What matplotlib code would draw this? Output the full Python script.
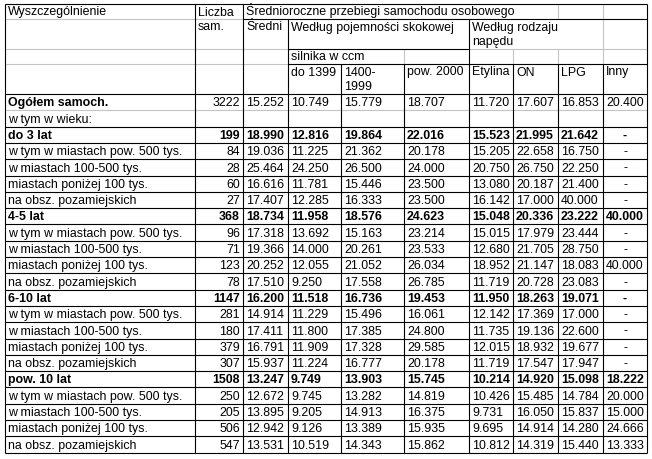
import matplotlib.pyplot as plt

# table data
labels = ["Ogółem samoch.", "w tym w wieku:",
          "do 3 lat", "w tym w miastach pow. 500 tys.", "w miastach 100-500 tys.",
          "miastach poniżej 100 tys.", "na obsz. pozamiejskich",
          "4-5 lat", "w tym w miastach pow. 500 tys.", "w miastach 100-500 tys.",
          "miastach poniżej 100 tys.", "na obsz. pozamiejskich",
          "6-10 lat", "w tym w miastach pow. 500 tys.", "w miastach 100-500 tys.",
          "miastach poniżej 100 tys.", "na obsz. pozamiejskich",
          "pow. 10 lat", "w tym w miastach pow. 500 tys.", "w miastach 100-500 tys.",
          "miastach poniżej 100 tys.", "na obsz. pozamiejskich"]
bold_rows = [2, 7, 12, 17]
liczba = [3222, None, 199, 84, 28, 60, 27, 368, 96, 71, 123, 78,
          1147, 281, 180, 379, 307, 1508, 250, 205, 506, 547]
sredni = [15.252, None, 18.990, 19.036, 25.464, 16.616, 17.407, 18.734, 17.318, 19.366, 20.252, 17.510,
          16.200, 14.914, 17.411, 16.791, 15.937, 13.247, 12.672, 13.895, 12.942, 13.531]
do1399 = [10.749, None, 12.816, 11.225, 24.250, 11.781, 12.285, 11.958, 13.692, 14.000, 12.055, 9.250,
          11.518, 11.229, 11.800, 11.909, 11.224, 9.749, 9.745, 9.205, 9.126, 10.519]
od1400 = [15.779, None, 19.864, 21.362, 26.500, 15.446, 16.333, 18.576, 15.163, 20.261, 21.052, 17.558,
          16.736, 15.496, 17.385, 17.328, 16.777, 13.903, 13.282, 14.913, 13.389, 14.343]
pow2000 = [18.707, None, 22.016, 20.178, 24.000, 23.500, 23.500, 24.623, 23.214, 23.533, 26.034, 26.785,
           19.453, 16.061, 24.800, 29.585, 20.178, 15.745, 14.819, 16.375, 15.935, 15.862]
etylina = [11.720, None, 15.523, 15.205, 20.750, 13.080, 16.142, 15.048, 15.015, 12.680, 18.952, 11.719,
           11.950, 12.142, 11.735, 12.015, 11.719, 10.214, 10.426, 9.731, 9.695, 10.812]
on = [17.607, None, 21.995, 22.658, 26.750, 20.187, 17.000, 20.336, 17.979, 21.705, 21.147, 20.728,
      18.263, 17.369, 19.136, 18.932, 17.547, 14.920, 15.485, 16.050, 14.914, 14.319]
lpg = [16.853, None, 21.642, 16.750, 22.250, 21.400, 40.000, 23.222, 23.444, 28.750, 18.083, 23.083,
       19.071, 17.000, 22.600, 19.677, 17.947, 15.098, 14.784, 15.837, 14.280, 15.440]
inny = [20.400, None, "-", "-", "-", "-", "-", 40.000, "-", "-", 40.000, "-",
        "-", "-", "-", "-", "-", 18.222, 20.000, 15.000, 24.666, 13.333]

# layout in pixels
xs = [5, 195, 243, 288, 341, 404, 469, 513, 558, 603, 647]
hy = [4, 19, 49, 64, 94]
row_h = (452.7 - 94) / len(labels)
ys = [94 + i * row_h for i in range(len(labels) + 1)]

fig = plt.figure(figsize=(6.52, 4.59), dpi=100)
ax = fig.add_axes([0, 0, 1, 1])
ax.set_xlim(0, 652)
ax.set_ylim(459, 0)
ax.axis("off")

gray = "#c4c4c4"
lw = 0.8
FS = 8.9
FONT = "Liberation Sans"

def hl(y, x0, x1, c):
    ax.plot([x0, x1], [y, y], color=c, lw=lw, solid_capstyle="butt")

def vl(x, y0, y1, c):
    ax.plot([x, x], [y0, y1], color=c, lw=lw, solid_capstyle="butt")

# gray lines first
hl(hy[1], xs[0], xs[2], gray)
hl(hy[2], xs[0], xs[3], gray)
hl(hy[2], xs[6], xs[10], gray)
hl(hy[3], xs[0], xs[3], gray)
hl(ys[1], xs[0], xs[10], gray)
vl(xs[8], hy[0], hy[1], gray)
vl(xs[9], hy[0], hy[3], gray)
vl(xs[5], hy[2], hy[3], gray)
vl(xs[7], hy[2], hy[3], gray)
vl(xs[8], hy[2], hy[3], gray)

# black lines
hl(hy[0], xs[0], xs[10], "black")
hl(hy[1], xs[2], xs[10], "black")
hl(hy[2], xs[3], xs[6], "black")
hl(hy[3], xs[3], xs[10], "black")
for i, y in enumerate(ys):
    if i != 1:
        hl(y, xs[0], xs[10], "black")
vl(xs[0], hy[0], ys[-1], "black")
vl(xs[1], hy[0], ys[-1], "black")
vl(xs[2], hy[0], ys[-1], "black")
vl(xs[3], hy[1], ys[-1], "black")
vl(xs[6], hy[1], ys[-1], "black")
for k in [4, 5, 7, 8, 9]:
    vl(xs[k], hy[3], ys[-1], "black")
vl(xs[10], hy[0], ys[-1], "black")

# header text
def ht(col, row, s):
    ax.text(xs[col] + 3, hy[row] + 11.5, s, fontsize=FS, family=FONT,
            va="baseline", ha="left", linespacing=1.15)

ht(0, 0, "Wyszczególnienie")
ht(1, 0, "Liczba")
ht(2, 0, "Średnioroczne przebiegi samochodu osobowego")
ht(1, 1, "sam.")
ht(2, 1, "Średni")
ht(3, 1, "Według pojemności skokowej")
ax.text(xs[6] + 3, hy[1] + 11.5, "Według rodzaju", fontsize=FS, family=FONT, va="baseline")
ax.text(xs[6] + 3, hy[1] + 25.5, "napędu", fontsize=FS, family=FONT, va="baseline")
ht(3, 2, "silnika w ccm")
ht(3, 3, "do 1399")
ax.text(xs[4] + 3, hy[3] + 11.5, "1400-", fontsize=FS, family=FONT, va="baseline")
ax.text(xs[4] + 3, hy[3] + 25.5, "1999", fontsize=FS, family=FONT, va="baseline")
ht(5, 3, "pow. 2000")
ht(6, 3, "Etylina")
ht(7, 3, "ON")
ht(8, 3, "LPG")
ht(9, 3, "Inny")

# body text
value_cols = [sredni, do1399, od1400, pow2000, etylina, on, lpg, inny]
for i, lab in enumerate(labels):
    yb = ys[i + 1] - 4
    bold = i in bold_rows
    w = "bold" if (bold or i == 0) else "normal"
    ax.text(xs[0] + 3, yb, lab, fontsize=FS, family=FONT, va="baseline", weight=w)
    w = "bold" if bold else "normal"
    if liczba[i] is not None:
        ax.text(xs[2] - 3, yb, str(liczba[i]), fontsize=FS, family=FONT,
                va="baseline", ha="right", weight=w)
    for j, col in enumerate(value_cols):
        v = col[i]
        if v is None:
            continue
        if v == "-":
            ax.text((xs[j + 2] + xs[j + 3]) / 2, yb, "-", fontsize=FS, family=FONT,
                    va="baseline", ha="center", weight=w)
        else:
            ax.text(xs[j + 2] + 3, yb, "%.3f" % v, fontsize=FS, family=FONT,
                    va="baseline", ha="left", weight=w)

plt.savefig("out.png", dpi=100, facecolor="white")
